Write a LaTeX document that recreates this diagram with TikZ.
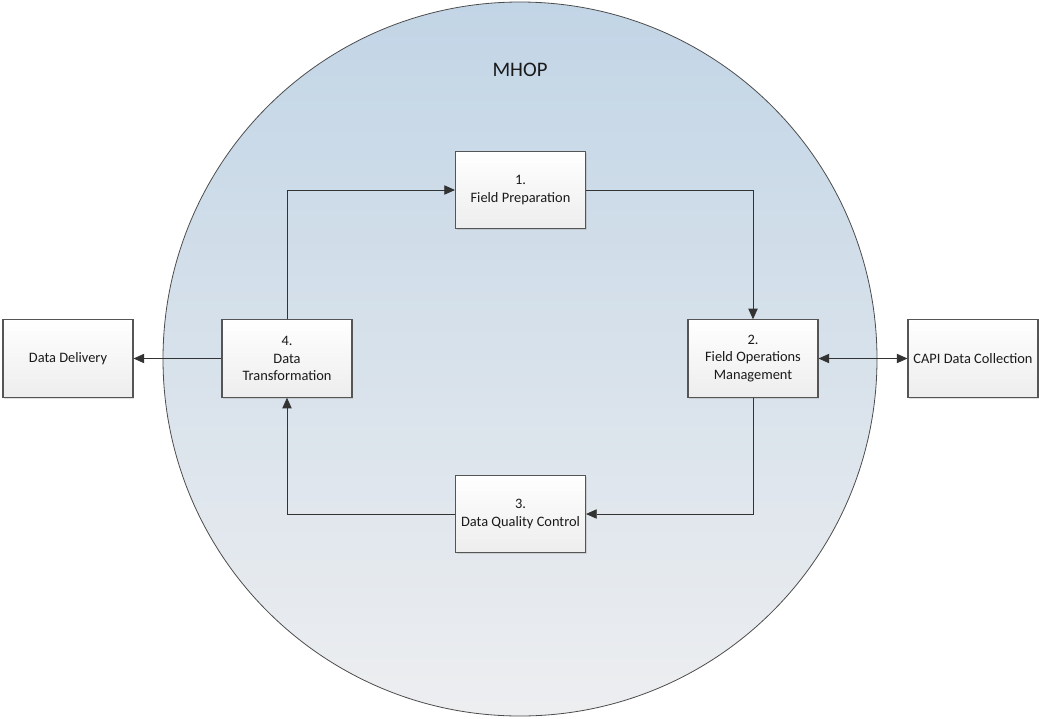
\documentclass[tikz,border=0pt]{standalone}
\usepackage{fontspec}
\setmainfont{Carlito}
\usetikzlibrary{arrows.meta,shadows}
\definecolor{boxline}{HTML}{555555}
\definecolor{circtop}{HTML}{C2D5E6}
\definecolor{circbot}{HTML}{EDEEF0}
\definecolor{txt}{HTML}{1A1A1A}
\tikzset{
  procbox/.style={draw=boxline, line width=0.8pt, top color=white, bottom color=black!7,
    minimum width=97.5pt, minimum height=58pt, inner sep=2pt, align=center,
    font=\fontsize{10.8}{13}\selectfont, text=txt,
    drop shadow={opacity=0.25, shadow xshift=1pt, shadow yshift=-1pt}},
  flow/.style={draw=black!80, line width=0.6pt, -{Triangle[length=8pt,width=7pt]}},
  both/.style={draw=black!80, line width=0.6pt, {Triangle[length=8pt,width=7pt]}-{Triangle[length=8pt,width=7pt]}}
}
\begin{document}
\begin{tikzpicture}[x=0.75pt,y=-0.75pt]
\useasboundingbox (0,0) rectangle (1039,718);
\shade[top color=circtop, bottom color=circbot] (520,359) circle[radius=357];
\draw[black!70, line width=0.6pt] (520,359) circle[radius=357];
\node[font=\fontsize{15.5}{18}\selectfont, text=txt] (title) at (520,70) {MHOP};
\node[procbox] (fp) at (520.5,190) {1.\\Field Preparation};
\node[procbox] (fo) at (753,358.5) {2.\\Field Operations\\Management};
\node[procbox] (dq) at (520.5,514) {3.\\Data Quality Control};
\node[procbox] (dt) at (287,358.5) {4.\\Data\\Transformation};
\node[procbox] (dd) at (68,358.5) {Data Delivery};
\node[procbox] (capi) at (973,358.5) {CAPI Data Collection};
\draw[flow] (dt.north) |- (fp.west);
\draw[flow] (fp.east) -| (fo.north);
\draw[flow] (fo.south) |- (dq.east);
\draw[flow] (dq.west) -| (dt.south);
\draw[flow] (dt.west) -- (dd.east);
\draw[both] (fo.east) -- (capi.west);
\end{tikzpicture}
\end{document}
